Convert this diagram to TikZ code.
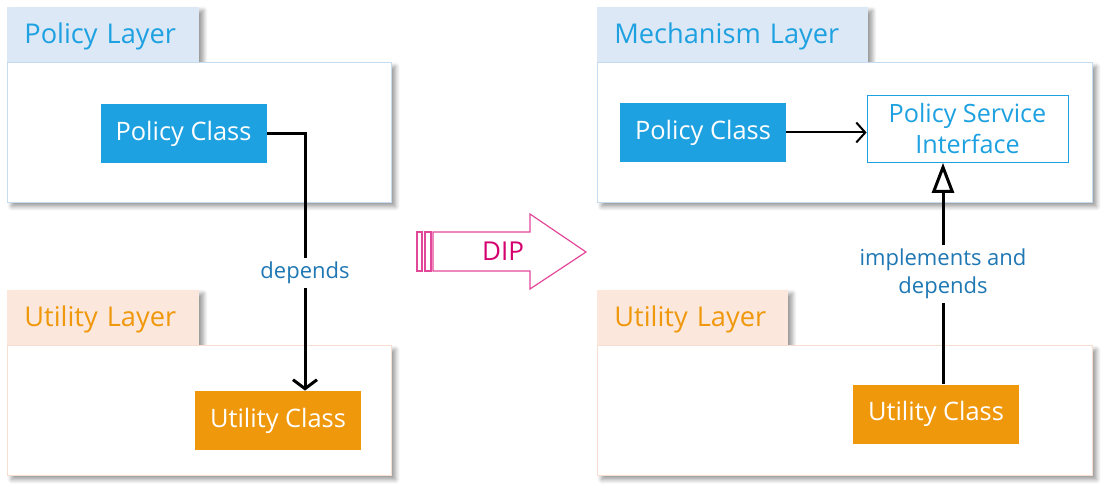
\documentclass[tikz,border=0pt]{standalone}
\usepackage{fontspec}
\setmainfont{Open Sans}
\usetikzlibrary{positioning,arrows.meta,shadows.blur}

\definecolor{policyblue}{HTML}{1EA1E0}
\definecolor{tabblue}{HTML}{DCE8F6}
\definecolor{edgeblue}{HTML}{C4DBF0}
\definecolor{tabpeach}{HTML}{FBE7DC}
\definecolor{edgepeach}{HTML}{F8DED0}
\definecolor{utilorange}{HTML}{F0980C}
\definecolor{labelblue}{HTML}{1F78B4}
\definecolor{dippink}{HTML}{E2489A}
\definecolor{diptext}{HTML}{D4006E}

\tikzset{
  layerbody/.style={draw=#1, fill=white, line width=0.6pt, inner sep=0pt,
    blur shadow={shadow xshift=2pt, shadow yshift=-2pt,
    shadow blur steps=5, shadow opacity=40}},
  layertab/.style={fill=#1, anchor=south west, inner xsep=8.5pt, inner ysep=0pt,
    minimum height=27.5pt, align=left, text depth=0.5pt,
    font=\fontsize{13.6}{16}\selectfont,
    blur shadow={shadow xshift=2pt, shadow yshift=-2pt,
    shadow blur steps=5, shadow opacity=40}},
  classbox/.style={fill=#1, text=white, minimum width=83pt, minimum height=29.5pt,
    inner sep=0pt, font=\fontsize{12.7}{15}\selectfont},
  depend/.style={line width=1.5pt, -{Straight Barb[length=4.5pt,width=12pt]}},
  edgelabel/.style={fill=white, text=labelblue, inner sep=2pt,
    font=\fontsize{11}{14}\selectfont, align=center}
}

\begin{document}
\begin{tikzpicture}[x=0.5pt, y=-0.5pt]
\useasboundingbox (0,0) rectangle (1109,492);

% left: before DIP
\node[layertab=tabblue, text width=79pt, text=policyblue] (policytab) at (7,62) {Policy Layer};
\node[layerbody=edgeblue, minimum width=192pt, minimum height=70pt,
  below right=0pt and 0pt of policytab.south west] (policybody) {};
\node[layertab=tabpeach, text width=79pt, text=utilorange] (utiltab) at (7,345) {Utility Layer};
\node[layerbody=edgepeach, minimum width=192pt, minimum height=65pt,
  below right=0pt and 0pt of utiltab.south west] (utilbody) {};

\node[classbox=policyblue] (lpolicy) at (183.5,134) {Policy Class};
\node[classbox=utilorange] (lutil) at (278,420.5) {Utility Class};

\draw[depend] (lpolicy.east) -| ([xshift=13.5pt]lutil.north)
  node[edgelabel, pos=0.77] {depends};

% the DIP arrow
\draw[dippink, line width=0.6pt] (417,232) rectangle (422,271);
\draw[dippink, line width=0.6pt] (425,232) rectangle (431,271);
\draw[dippink, line width=0.6pt] (433,232) -- (530,232) -- (530,214) -- (586,252)
  -- (530,289) -- (530,271) -- (433,271) -- cycle;
\node[text=diptext, font=\fontsize{13}{15}\selectfont] (dip) at (503,251) {DIP};

% right: after DIP
\node[layertab=tabblue, text width=118.5pt, text=policyblue] (mechtab) at (597,62) {Mechanism Layer};
\node[layerbody=edgeblue, minimum width=247.5pt, minimum height=70pt,
  below right=0pt and 0pt of mechtab.south west] (mechbody) {};
\node[layertab=tabpeach, text width=78.5pt, text=utilorange] (rutiltab) at (597,345) {Utility Layer};
\node[layerbody=edgepeach, minimum width=247.5pt, minimum height=65pt,
  below right=0pt and 0pt of rutiltab.south west] (rutilbody) {};

\node[classbox=policyblue] (rpolicy) at (703,132.5) {Policy Class};
\node[draw=policyblue, fill=white, text=policyblue, minimum width=100.5pt,
  minimum height=33.5pt, inner sep=0pt, align=center,
  font=\fontsize{12.6}{15.5}\selectfont] (iface) at (967.5,129) {Policy Service\\Interface};
\node[classbox=utilorange] (rutil) at (936,414) {Utility Class};

\draw[line width=1pt, -{Straight Barb[length=4.5pt,width=10pt]}]
  (rpolicy.east) -- (rpolicy.east -| iface.west);
\draw[line width=1.5pt, -{Triangle[open, length=15pt, width=11pt]}]
  ([xshift=3.5pt]rutil.north) -- ([xshift=3.5pt]rutil.north |- iface.south)
  node[edgelabel, midway] {implements and\\depends};
\end{tikzpicture}
\end{document}
